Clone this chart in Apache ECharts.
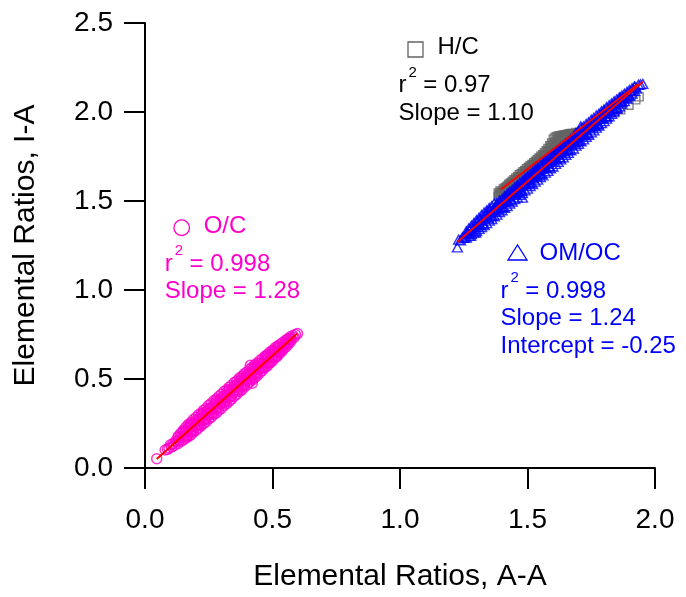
<!DOCTYPE html>
<html>
<head>
<meta charset="utf-8">
<script src="https://cdn.jsdelivr.net/npm/echarts@6/dist/echarts.min.js"></script>
<style>
  html, body { margin: 0; padding: 0; background: #ffffff; }
  #chart { width: 686px; height: 597px; }
</style>
</head>
<body>
<div id="chart"></div>
<script>
const FONT = '"Liberation Sans", Arial, Helvetica, sans-serif';

// Axis ticks
const xTickValues = [0, 0.5, 1.0, 1.5, 2.0];
const xTickLabels = ['0.0', '0.5', '1.0', '1.5', '2.0'];
const yTickValues = [0, 0.5, 1.0, 1.5, 2.0, 2.5];
const yTickLabels = ['0.0', '0.5', '1.0', '1.5', '2.0', '2.5'];

// O/C : [A-A, I-A]
const ocPoints = [
  [0.046,0.052],[0.079,0.101],[0.088,0.105],[0.094,0.113],
  [0.100,0.130],[0.105,0.118],[0.110,0.136],[0.115,0.127],[0.120,0.152],[0.125,0.150],[0.130,0.170],[0.135,0.156],[0.140,0.175],[0.145,0.173],
  [0.150,0.204],[0.155,0.175],[0.160,0.202],[0.165,0.178],[0.170,0.222],[0.175,0.212],[0.180,0.248],[0.185,0.210],[0.190,0.244],[0.195,0.232],
  [0.200,0.268],[0.205,0.239],[0.210,0.266],[0.215,0.242],[0.220,0.286],[0.225,0.276],[0.230,0.312],[0.235,0.274],[0.240,0.308],[0.245,0.296],
  [0.250,0.332],[0.255,0.303],[0.260,0.330],[0.265,0.306],[0.270,0.350],[0.275,0.340],[0.280,0.376],[0.285,0.338],[0.290,0.372],[0.295,0.360],
  [0.300,0.396],[0.305,0.367],[0.310,0.394],[0.315,0.370],[0.320,0.414],[0.325,0.404],[0.330,0.440],[0.335,0.402],[0.340,0.436],[0.345,0.424],
  [0.350,0.460],[0.355,0.431],[0.360,0.458],[0.365,0.434],[0.370,0.478],[0.375,0.468],[0.380,0.504],[0.385,0.466],[0.390,0.500],[0.395,0.488],
  [0.400,0.524],[0.405,0.495],[0.410,0.522],[0.415,0.498],[0.420,0.542],[0.425,0.532],[0.430,0.568],[0.435,0.530],[0.440,0.564],[0.445,0.552],
  [0.450,0.588],[0.455,0.559],[0.460,0.586],[0.465,0.562],[0.470,0.606],[0.475,0.596],[0.480,0.632],[0.485,0.594],[0.490,0.628],[0.495,0.616],
  [0.500,0.652],[0.505,0.623],[0.510,0.650],[0.515,0.626],[0.520,0.670],[0.525,0.660],
  [0.530,0.680],[0.535,0.669],[0.540,0.686],[0.545,0.678],[0.550,0.702],[0.555,0.700],[0.560,0.721],[0.565,0.706],[0.570,0.726],[0.575,0.723],
  [0.580,0.744],[0.585,0.733],[0.590,0.750],[0.598,0.755],[0.413,0.577],[0.421,0.476],
  [0.153,0.181],[0.158,0.210],[0.163,0.180],[0.168,0.207],[0.173,0.235],[0.178,0.206],[0.183,0.234],[0.188,0.208],[0.193,0.253],[0.198,0.244],
  [0.203,0.245],[0.208,0.274],[0.213,0.244],[0.218,0.271],[0.223,0.299],[0.228,0.270],[0.233,0.298],[0.238,0.272],[0.243,0.317],[0.248,0.308],
  [0.253,0.309],[0.258,0.338],[0.263,0.308],[0.268,0.335],[0.273,0.363],[0.278,0.334],[0.283,0.362],[0.288,0.336],[0.293,0.381],[0.298,0.372],
  [0.303,0.373],[0.308,0.402],[0.313,0.372],[0.318,0.399],[0.323,0.427],[0.328,0.398],[0.333,0.426],[0.338,0.400],[0.343,0.445],[0.348,0.436],
  [0.353,0.437],[0.358,0.466],[0.363,0.436],[0.368,0.463],[0.373,0.491],[0.378,0.462],[0.383,0.490],[0.388,0.464],[0.393,0.509],[0.398,0.500],
  [0.403,0.501],[0.408,0.530],[0.413,0.500],[0.418,0.527],[0.423,0.555],[0.428,0.526],[0.433,0.554],[0.438,0.528],[0.443,0.573],[0.448,0.564],
  [0.453,0.565],[0.458,0.594],[0.463,0.564],[0.468,0.591],[0.473,0.619],[0.478,0.590],[0.483,0.618],[0.488,0.592],[0.493,0.637],[0.498,0.628],
  [0.503,0.629],[0.508,0.658],[0.513,0.628],[0.518,0.655],[0.523,0.683],[0.528,0.654],
  [0.13,0.178],[0.13,0.138],[0.14,0.195],[0.14,0.149],[0.15,0.212],[0.15,0.157],[0.16,0.229],[0.16,0.167],[0.17,0.245],[0.17,0.177],
  [0.18,0.255],[0.18,0.186],[0.19,0.272],[0.19,0.201],[0.20,0.284],[0.20,0.211],[0.21,0.299],[0.21,0.226],[0.22,0.309],[0.22,0.236],
  [0.23,0.325],[0.23,0.250],[0.24,0.336],[0.24,0.260],[0.25,0.352],[0.25,0.276],[0.26,0.363],[0.26,0.286],[0.27,0.379],[0.27,0.301],
  [0.28,0.387],[0.28,0.310],[0.29,0.403],[0.29,0.325],[0.30,0.414],[0.30,0.335],[0.31,0.430],[0.31,0.352],[0.32,0.439],[0.32,0.362],
  [0.33,0.454],[0.33,0.376],[0.34,0.465],[0.34,0.387],[0.35,0.480],[0.35,0.403],[0.36,0.489],[0.36,0.414],[0.37,0.505],[0.37,0.430],
  [0.38,0.515],[0.38,0.439],[0.39,0.530],[0.39,0.455],[0.40,0.540],[0.40,0.466],[0.41,0.555],[0.41,0.482],[0.42,0.565],[0.42,0.493],
  [0.43,0.579],[0.43,0.508],[0.44,0.589],[0.44,0.519],[0.45,0.604],[0.45,0.535],[0.46,0.614],[0.46,0.547],[0.47,0.628],[0.47,0.563],
  [0.48,0.637],[0.48,0.574],[0.49,0.651],[0.49,0.590],[0.50,0.661],[0.50,0.602],[0.51,0.675],[0.51,0.618],[0.52,0.685],[0.52,0.631],
  [0.53,0.695],[0.53,0.646],[0.54,0.705],[0.54,0.661],[0.55,0.716],[0.55,0.677],[0.56,0.726],[0.56,0.692],[0.57,0.737],[0.57,0.708]
];

// H/C : [A-A, I-A]
const hcPoints = [
  [1.385,1.545],[1.385,1.525],[1.392,1.556],[1.392,1.531],[1.398,1.549],[1.405,1.567],[1.405,1.540],[1.412,1.575],[1.412,1.551],
  [1.419,1.583],[1.419,1.560],[1.426,1.594],[1.426,1.566],[1.433,1.602],[1.433,1.576],[1.440,1.611],[1.440,1.585],[1.447,1.620],[1.447,1.594],
  [1.454,1.630],[1.454,1.601],[1.461,1.638],[1.461,1.611],[1.468,1.648],[1.468,1.618],[1.475,1.655],[1.475,1.628],[1.482,1.664],[1.482,1.636],
  [1.489,1.672],[1.489,1.645],[1.496,1.681],[1.496,1.652],[1.503,1.690],[1.503,1.662],[1.510,1.699],[1.510,1.670],[1.517,1.706],[1.517,1.679],
  [1.524,1.715],[1.524,1.688],[1.531,1.724],[1.531,1.696],[1.538,1.733],[1.538,1.705],[1.545,1.742],[1.545,1.713],[1.552,1.751],[1.552,1.722],
  [1.559,1.760],[1.559,1.731],[1.566,1.771],[1.566,1.740],[1.573,1.782],[1.573,1.748],[1.580,1.795],[1.580,1.757],[1.587,1.810],[1.587,1.766],
  [1.594,1.826],[1.594,1.774],[1.601,1.848],[1.601,1.790],[1.608,1.858],[1.608,1.800],[1.615,1.862],[1.615,1.812],[1.622,1.865],[1.622,1.826],
  [1.629,1.867],[1.629,1.835],[1.636,1.869],[1.636,1.840],[1.643,1.871],[1.643,1.846],[1.650,1.873],[1.650,1.850],[1.657,1.875],[1.657,1.856],
  [1.664,1.878],[1.664,1.860],[1.671,1.879],[1.671,1.866],[1.678,1.880],[1.690,1.885],
  [1.795,1.962],[1.842,1.995],[1.866,2.012],[1.898,2.038],[1.925,2.068],[1.938,2.085],
  [1.388,1.537],[1.395,1.546],[1.402,1.555],[1.409,1.566],[1.416,1.570],[1.423,1.582],[1.430,1.587],[1.437,1.600],[1.444,1.604],[1.451,1.618],
  [1.458,1.622],[1.465,1.635],[1.472,1.639],[1.479,1.652],[1.486,1.656],[1.493,1.669],[1.500,1.673],[1.507,1.686],[1.514,1.690],[1.521,1.703],
  [1.528,1.707],[1.535,1.720],[1.542,1.725],[1.549,1.738],[1.556,1.742],[1.563,1.757],[1.570,1.762],[1.577,1.778],[1.584,1.785],[1.591,1.802],
  [1.598,1.815],[1.605,1.830],[1.612,1.838],[1.619,1.848],[1.626,1.852],[1.633,1.856],[1.640,1.858],[1.647,1.862],[1.654,1.863],[1.661,1.868],
  [1.668,1.870],[1.675,1.873]
];

// OM/OC : [A-A, I-A]
const omocPoints = [
  [1.230,1.283],[1.2375,1.279],[1.245,1.296],[1.2525,1.293],[1.260,1.317],[1.2675,1.320],[1.275,1.341],[1.2825,1.333],[1.290,1.353],[1.2975,1.355],
  [1.305,1.386],[1.3125,1.364],[1.320,1.391],[1.3275,1.374],[1.335,1.416],[1.3425,1.410],[1.350,1.448],[1.3575,1.416],[1.365,1.451],[1.3725,1.443],
  [1.380,1.479],[1.3875,1.457],[1.395,1.484],[1.4025,1.467],[1.410,1.509],[1.4175,1.503],[1.425,1.541],[1.4325,1.509],[1.440,1.544],[1.4475,1.536],
  [1.455,1.572],[1.4625,1.550],[1.470,1.577],[1.4775,1.560],[1.485,1.602],[1.4925,1.596],[1.500,1.634],[1.5075,1.602],[1.515,1.637],[1.5225,1.629],
  [1.530,1.665],[1.5375,1.643],[1.545,1.670],[1.5525,1.653],[1.560,1.695],[1.5675,1.689],[1.575,1.727],[1.5825,1.695],[1.590,1.730],[1.5975,1.722],
  [1.605,1.758],[1.6125,1.736],[1.620,1.763],[1.6275,1.746],[1.635,1.788],[1.6425,1.782],[1.650,1.820],[1.6575,1.788],[1.665,1.823],[1.6725,1.815],
  [1.680,1.851],[1.6875,1.829],[1.695,1.856],[1.7025,1.839],[1.710,1.881],[1.7175,1.875],[1.725,1.913],[1.7325,1.881],[1.740,1.916],[1.7475,1.908],
  [1.755,1.944],[1.7625,1.922],[1.770,1.949],[1.7775,1.932],[1.785,1.974],[1.7925,1.968],[1.800,2.006],[1.8075,1.974],[1.815,2.009],[1.8225,2.001],
  [1.830,2.037],[1.8375,2.015],[1.845,2.042],[1.8525,2.025],[1.860,2.067],[1.8675,2.061],
  [1.875,2.083],[1.8825,2.078],[1.890,2.096],[1.8975,2.093],[1.905,2.117],[1.9125,2.120],[1.920,2.141],[1.9275,2.133],[1.935,2.153],[1.9425,2.155],[1.952,2.158],
  [1.225,1.239],[1.277,1.304],[1.297,1.323],[1.709,1.919],[1.480,1.519],
  [1.309,1.367],[1.316,1.396],[1.324,1.373],[1.331,1.402],[1.339,1.430],[1.346,1.407],[1.354,1.436],[1.361,1.417],[1.369,1.460],[1.376,1.456],
  [1.384,1.460],[1.391,1.489],[1.399,1.466],[1.406,1.495],[1.414,1.523],[1.421,1.500],[1.429,1.529],[1.436,1.510],[1.444,1.553],[1.451,1.549],
  [1.459,1.553],[1.466,1.582],[1.474,1.559],[1.481,1.588],[1.489,1.616],[1.496,1.593],[1.504,1.622],[1.511,1.603],[1.519,1.646],[1.526,1.642],
  [1.534,1.646],[1.541,1.675],[1.549,1.652],[1.556,1.681],[1.564,1.709],[1.571,1.686],[1.579,1.715],[1.586,1.696],[1.594,1.739],[1.601,1.735],
  [1.609,1.739],[1.616,1.768],[1.624,1.745],[1.631,1.774],[1.639,1.802],[1.646,1.779],[1.654,1.808],[1.661,1.789],[1.669,1.832],[1.676,1.828],
  [1.684,1.832],[1.691,1.861],[1.699,1.838],[1.706,1.867],[1.714,1.895],[1.721,1.872],[1.729,1.901],[1.736,1.882],[1.744,1.925],[1.751,1.921],
  [1.759,1.925],[1.766,1.954],[1.774,1.931],[1.781,1.960],[1.789,1.988],[1.796,1.965],[1.804,1.994],[1.811,1.975],[1.819,2.018],[1.826,2.014],
  [1.834,2.018],[1.841,2.047],[1.849,2.024],[1.856,2.053],[1.864,2.081],[1.871,2.058],
  [1.26,1.330],[1.26,1.295],[1.27,1.346],[1.27,1.305],[1.28,1.361],[1.28,1.314],[1.29,1.377],[1.29,1.324],[1.30,1.392],[1.30,1.333],
  [1.31,1.406],[1.31,1.343],[1.32,1.421],[1.32,1.354],[1.33,1.435],[1.33,1.364],[1.34,1.447],[1.34,1.376],[1.35,1.461],[1.35,1.390],
  [1.36,1.471],[1.36,1.399],[1.37,1.487],[1.37,1.414],[1.38,1.487],[1.38,1.423],[1.39,1.502],[1.39,1.438],[1.40,1.512],[1.40,1.448],
  [1.41,1.527],[1.41,1.462],[1.42,1.538],[1.42,1.472],[1.43,1.552],[1.43,1.486],[1.44,1.563],[1.44,1.497],[1.45,1.578],[1.45,1.511],
  [1.46,1.588],[1.46,1.520],[1.47,1.603],[1.47,1.535],[1.48,1.613],[1.48,1.545],[1.49,1.628],[1.49,1.560],[1.50,1.638],[1.50,1.570],
  [1.51,1.652],[1.51,1.584],[1.52,1.663],[1.52,1.595],[1.53,1.677],[1.53,1.609],[1.54,1.688],[1.54,1.620],[1.55,1.702],[1.55,1.634],
  [1.56,1.712],[1.56,1.644],[1.57,1.727],[1.57,1.659],[1.58,1.737],[1.58,1.669],[1.59,1.752],[1.59,1.684],[1.60,1.762],[1.60,1.694],
  [1.61,1.775],[1.61,1.709],[1.62,1.786],[1.62,1.720],[1.63,1.800],[1.63,1.734],[1.64,1.811],[1.64,1.745],[1.65,1.825],[1.65,1.760],
  [1.66,1.834],[1.66,1.770],[1.67,1.849],[1.67,1.785],[1.68,1.859],[1.68,1.795],[1.69,1.884],[1.69,1.811],[1.70,1.893],[1.70,1.821],
  [1.71,1.907],[1.71,1.835],[1.72,1.918],[1.72,1.846],[1.73,1.932],[1.73,1.861],[1.74,1.942],[1.74,1.872],[1.75,1.956],[1.75,1.886],
  [1.76,1.966],[1.76,1.897],[1.77,1.980],[1.77,1.912],[1.78,1.990],[1.78,1.923],[1.79,2.004],[1.79,1.938],[1.80,2.014],[1.80,1.949],
  [1.81,2.027],[1.81,1.963],[1.82,2.038],[1.82,1.976],[1.83,2.049],[1.83,1.990],[1.84,2.060],[1.84,2.004],[1.85,2.071],[1.85,2.018],
  [1.86,2.081],[1.86,2.032],[1.87,2.092],[1.87,2.047],[1.88,2.102],[1.88,2.061],[1.89,2.113],[1.89,2.076],[1.90,2.123],[1.90,2.090],
  [1.91,2.133],[1.91,2.104],[1.92,2.144],[1.92,2.119]
];

// Linear fits: [slope, intercept] and the A-A span each one covers
const ocFit = [1.28, -0.008];
const ocFitRange = [0.046, 0.596];
const hcFit = [1.10, 0.03];
const hcFitRange = [1.395, 1.935];
const omocFit = [1.24, -0.25];
const omocFitRange = [1.225, 1.952];

// Fit statistics shown next to each group
const ocStats = ['0.998', 'Slope = 1.28'];
const hcStats = ['0.97', 'Slope = 1.10'];
const omocStats = ['0.998', 'Slope = 1.24', 'Intercept = -0.25'];

const MAGENTA = '#ff00cc';
const BLUE = '#0000ff';
const GREY = '#646464';
const RED = '#ff0000';

function fitLine(fit, range) {
  return range.map(x => [x, fit[0] * x + fit[1]]);
}

function txt(x, y, text, color, size) {
  return {
    type: 'text', x: 0, y: 0, silent: true, z: 10,
    style: {
      text: text, x: x, y: y, fill: color,
      fontSize: size, fontFamily: FONT,
      align: 'left', verticalAlign: 'middle',
      textAlign: 'left', textVerticalAlign: 'middle'
    }
  };
}

// Label block: marker glyph, group name, r² line and further lines
function statBlock(sx, ny, color, glyph, name, stats) {
  const els = [glyph];
  const lx = sx - 17;
  const y1 = ny + 38;
  els.push(txt(sx + 22, ny, name, color, 24));
  els.push(txt(lx, y1, 'r', color, 24));
  els.push(txt(lx + 10, y1 - 13, '2', color, 15));
  els.push(txt(lx + 24.8, y1, '= ' + stats[0], color, 24));
  stats.slice(1).forEach((s, i) => els.push(txt(lx, y1 + 27.8 * (i + 1), s, color, 24)));
  return els;
}

const glyphStyle = (c) => ({ fill: 'none', stroke: c, lineWidth: 1.3 });

const graphics = [].concat(
  statBlock(181.7, 226, MAGENTA,
    { type: 'circle', shape: { cx: 181.7, cy: 227.7, r: 7.8 }, style: glyphStyle(MAGENTA), z: 10 },
    'O/C', ocStats),
  statBlock(415.5, 47.5, '#000000',
    { type: 'rect', shape: { x: 408, y: 42, width: 15, height: 15 }, style: glyphStyle(GREY), z: 10 },
    'H/C', hcStats),
  statBlock(517.5, 253, BLUE,
    { type: 'polygon', shape: { points: [[508, 260], [527, 260], [517.5, 245]] }, style: glyphStyle(BLUE), z: 10 },
    'OM/OC', omocStats)
);

const chart = echarts.init(document.getElementById('chart'), null, { renderer: 'canvas' });

const axisCommon = {
  type: 'value',
  interval: 0.5,
  splitLine: { show: false },
  axisLine: { show: true, onZero: false, lineStyle: { color: '#000', width: 2 } },
  axisTick: { show: true, inside: false, length: 21, lineStyle: { color: '#000', width: 2 } },
  nameLocation: 'middle',
  nameTextStyle: { color: '#000', fontSize: 30, fontFamily: FONT }
};

function tickFormatter(values, labels) {
  return function (v) {
    const i = values.findIndex(t => Math.abs(t - v) < 1e-9);
    return i >= 0 ? labels[i] : '';
  };
}

chart.setOption({
  animation: false,
  backgroundColor: '#ffffff',
  grid: { left: 145, right: 31, top: 23, bottom: 127, containLabel: false },
  xAxis: Object.assign({}, axisCommon, {
    min: 0, max: 2.0,
    name: 'Elemental Ratios, A-A',
    nameGap: 94,
    axisLabel: { margin: 38, color: '#000', fontSize: 28, fontFamily: FONT,
                 formatter: tickFormatter(xTickValues, xTickLabels) }
  }),
  yAxis: Object.assign({}, axisCommon, {
    min: 0, max: 2.5,
    name: 'Elemental Ratios, I-A',
    nameGap: 104,
    axisLabel: { margin: 32, color: '#000', fontSize: 28, fontFamily: FONT,
                 formatter: tickFormatter(yTickValues, yTickLabels) }
  }),
  series: [
    {
      name: 'H/C', type: 'scatter', data: hcPoints, symbol: 'rect', symbolSize: 8, z: 2,
      itemStyle: { color: 'rgba(0,0,0,0)', borderColor: GREY, borderWidth: 1.4 }
    },
    {
      name: 'OM/OC', type: 'scatter', data: omocPoints, symbol: 'triangle', symbolSize: [10, 9], z: 3,
      itemStyle: { color: 'rgba(0,0,0,0)', borderColor: BLUE, borderWidth: 1.4 }
    },
    {
      name: 'O/C', type: 'scatter', data: ocPoints, symbol: 'circle', symbolSize: 10, z: 4,
      itemStyle: { color: 'rgba(0,0,0,0)', borderColor: MAGENTA, borderWidth: 1.5 }
    },
    { type: 'line', data: fitLine(hcFit, hcFitRange), showSymbol: false, z: 5, lineStyle: { color: RED, width: 2 } },
    { type: 'line', data: fitLine(omocFit, omocFitRange), showSymbol: false, z: 5, lineStyle: { color: RED, width: 2 } },
    { type: 'line', data: fitLine(ocFit, ocFitRange), showSymbol: false, z: 5, lineStyle: { color: RED, width: 2 } }
  ],
  graphic: graphics
});
</script>
</body>
</html>
